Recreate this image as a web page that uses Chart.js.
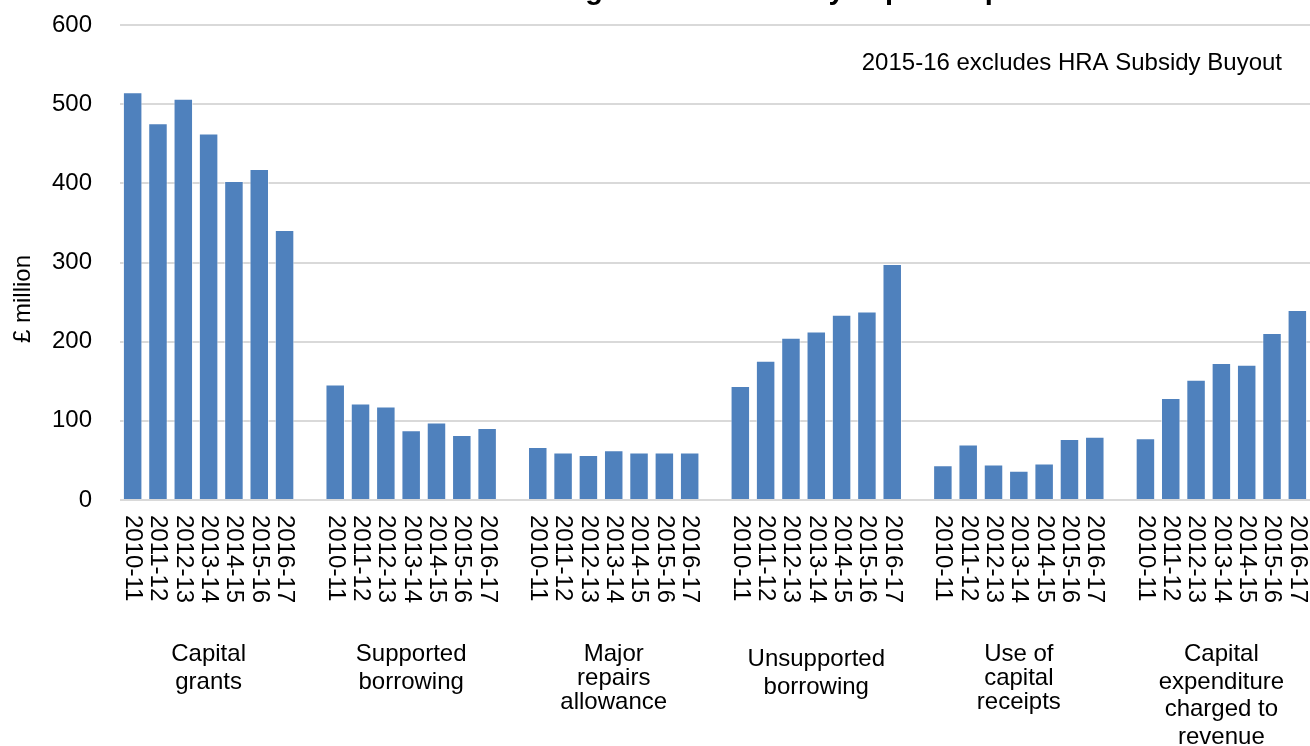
<!DOCTYPE html>
<html>
<head>
<meta charset="utf-8">
<title>Financing of local authority capital expenditure</title>
<script src="https://cdn.jsdelivr.net/npm/chart.js@4"></script>
<style>
  html, body { margin: 0; padding: 0; background: #fff; }
  canvas { display: block; }
</style>
</head>
<body>
<canvas id="chart" width="1310" height="746"></canvas>
<script>
// Financing sources (£ million) by year
const titleText = 'Financing of local authority capital expenditure';
const noteText = '2015-16 excludes HRA Subsidy Buyout';
const yAxisTitle = '£ million';

const years = ['2010-11', '2011-12', '2012-13', '2013-14', '2014-15', '2015-16', '2016-17'];
const groupLabels = [
  ['Capital', 'grants'],
  ['Supported', 'borrowing'],
  ['Major', 'repairs', 'allowance'],
  ['Unsupported', 'borrowing'],
  ['Use of', 'capital', 'receipts'],
  ['Capital', 'expenditure', 'charged to', 'revenue']
];

const capitalGrants        = [515, 476, 507, 463, 403, 418, 341];
const supportedBorrowing   = [146, 122, 118, 88, 98, 82, 91];
const majorRepairs         = [67, 60, 57, 63, 60, 60, 60];
const unsupportedBorrowing = [144, 176, 205, 213, 234, 238, 298];
const capitalReceipts      = [44, 70, 45, 37, 46, 77, 80];
const chargedToRevenue     = [78, 129, 152, 173, 171, 211, 240];

const yTicks = [0, 100, 200, 300, 400, 500, 600];

const seriesByGroup = [capitalGrants, supportedBorrowing, majorRepairs,
                       unsupportedBorrowing, capitalReceipts, chargedToRevenue];

// One category per year inside each group, with an empty slot between groups
const labels = [];
const values = [];
seriesByGroup.forEach((vals, g) => {
  years.forEach((yr, i) => { labels.push(yr); values.push(vals[i]); });
  if (g < seriesByGroup.length - 1) { labels.push(''); values.push(null); }
});

const FONT = '"Liberation Sans", Arial, Helvetica, sans-serif';

// Draws the rotated year labels, group names, axis title, note and title
const textLayer = {
  id: 'textLayer',
  afterDraw(chart) {
    const ctx = chart.ctx;
    const xs = chart.scales.x;
    const area = chart.chartArea;
    ctx.save();
    ctx.fillStyle = '#000';

    // year labels, reading downwards
    ctx.font = '24px ' + FONT;
    labels.forEach((lab, i) => {
      if (!lab) return;
      const px = xs.getPixelForValue(i);
      ctx.save();
      ctx.translate(px, area.bottom + 15);
      ctx.rotate(Math.PI / 2);
      ctx.textAlign = 'left';
      ctx.textBaseline = 'middle';
      ctx.fillText(lab, 0, 0);
      ctx.restore();
    });

    // group names under each block of bars
    ctx.textAlign = 'center';
    ctx.textBaseline = 'alphabetic';
    const slotsPerGroup = years.length + 1;
    groupLabels.forEach((lines, g) => {
      const cx = xs.getPixelForValue(g * slotsPerGroup + Math.floor(years.length / 2));
      const lh = lines.length === 3 ? 24 : 27.5;
      const first = g === 3 ? 666 : 661;
      lines.forEach((t, k) => ctx.fillText(t, cx, first + k * lh));
    });

    // y axis title
    ctx.save();
    ctx.translate(23, 299);
    ctx.rotate(-Math.PI / 2);
    ctx.textAlign = 'center';
    ctx.textBaseline = 'middle';
    ctx.fillText(yAxisTitle, 0, 0);
    ctx.restore();

    // note
    ctx.textAlign = 'right';
    ctx.textBaseline = 'alphabetic';
    ctx.fillText(noteText, 1282, 70);

    // chart title
    ctx.font = 'bold 29px ' + FONT;
    ctx.textAlign = 'left';
    ctx.fillText(titleText, 466, -1);

    ctx.restore();
  }
};

new Chart(document.getElementById('chart'), {
  type: 'bar',
  data: {
    labels: labels,
    datasets: [{
      data: values,
      backgroundColor: '#4f81bd',
      borderColor: 'rgba(255,255,255,0.55)',
      borderWidth: 1,
      barPercentage: 0.77,
      categoryPercentage: 1.0
    }]
  },
  options: {
    responsive: false,
    animation: false,
    devicePixelRatio: 1,
    layout: { padding: { top: 25, right: 0, bottom: 0, left: 0 } },
    plugins: {
      legend: { display: false },
      title: { display: false },
      tooltip: { enabled: false }
    },
    scales: {
      x: {
        grid: { display: false },
        border: { display: false },
        ticks: { display: false },
        afterFit(scale) {
          scale.height = 246;
          scale.paddingLeft = 0;
          scale.paddingRight = 0;
        }
      },
      y: {
        min: 0,
        max: 600,
        afterBuildTicks(scale) { scale.ticks = yTicks.map(v => ({ value: v })); },
        grid: { color: '#d9d9d9', lineWidth: 2, drawTicks: false },
        border: { display: false },
        ticks: {
          padding: 28,
          color: '#000',
          font: { family: FONT, size: 24 }
        },
        afterFit(scale) {
          scale.width = 120;
          scale.paddingTop = 0;
          scale.paddingBottom = 0;
        }
      }
    }
  },
  plugins: [textLayer]
});
</script>
</body>
</html>
